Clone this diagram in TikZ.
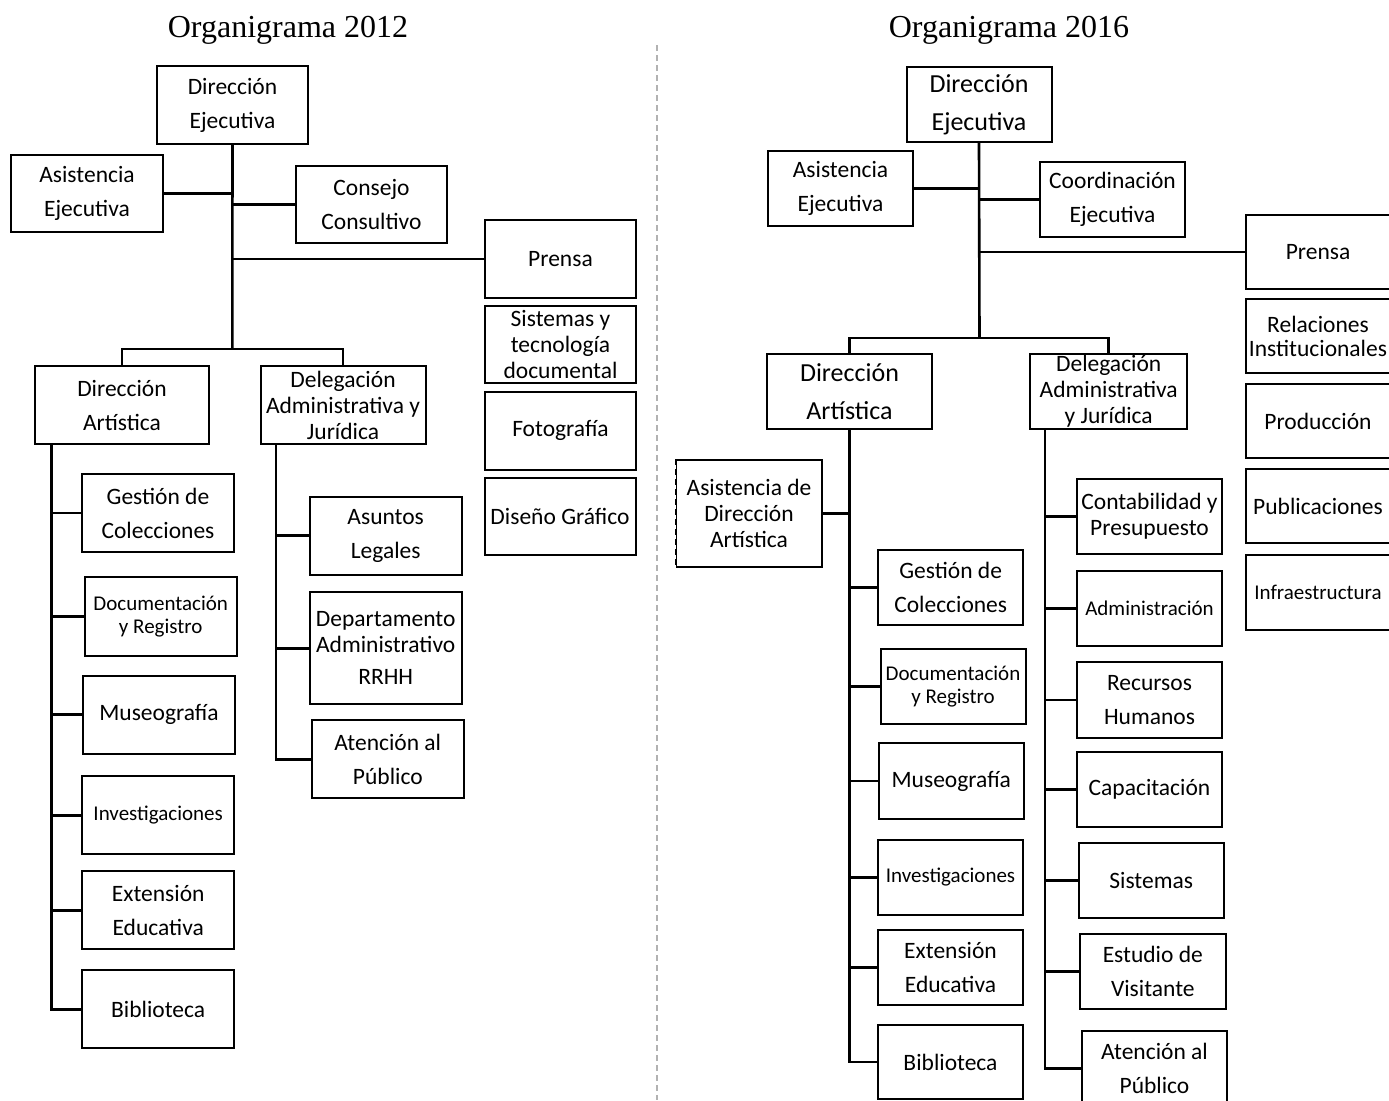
\documentclass[tikz,border=0pt]{standalone}
\usepackage{fontspec}
\setmainfont{Carlito}
\newfontfamily\titlefont{Liberation Serif}
\usepackage{tikz}
\usetikzlibrary{positioning,calc}

\begin{document}
\begin{tikzpicture}[x=0.5pt,y=-0.5pt,
    box/.style={draw, line width=1pt, align=center, inner sep=0pt,
        font=\fontsize{11.75}{17}\selectfont},
    tightbox/.style={box, font=\fontsize{11.75}{13}\selectfont},
    smallbox/.style={box, font=\fontsize{10.5}{11.5}\selectfont},
    bigbox/.style={box, font=\fontsize{13}{19}\selectfont},
    wire/.style={line width=1.3pt},
    title/.style={font=\titlefont\fontsize{16}{19}\selectfont}]
                    \useasboundingbox (0,0) rectangle (1389,1100);
                    \clip (0,0) rectangle (1389,1100);

                    \node[title] (titleA) at (288,30) {Organigrama 2012};
                    \node[title] (titleB) at (1009,30) {Organigrama 2016};
                    \coordinate (divTop) at (657,45);
                    \coordinate (divBot) at (657,1100);
                    \draw[black!30, line width=0.7pt, dash pattern=on 3pt off 2pt] (divTop) -- (divBot);

                    \node[box, minimum width=75.5pt, minimum height=39pt] (dirEjA) at (232.5,105) {Dirección\\Ejecutiva};
                    \node[box, minimum width=76pt, minimum height=38.5pt] (asistEjA) at (87,193.5) {Asistencia\\Ejecutiva};
                    \node[box, minimum width=75.5pt, minimum height=38.5pt] (consejoA) at (371.5,204.5) {Consejo\\Consultivo};
                    \node[box, minimum width=75.5pt, minimum height=39pt] (prensaA) at (560.5,259) {Prensa};
                    \node[tightbox, minimum width=75.5pt, minimum height=38.5pt] (sistemasA) at (560.5,344.5) {Sistemas y\\tecnología\\documental};
                    \node[box, minimum width=75.5pt, minimum height=39pt] (fotoA) at (560.5,430.5) {Fotografía};
                    \node[box, minimum width=75.5pt, minimum height=38.5pt] (disenoA) at (560,516.5) {Diseño Gráfico};
                    \node[box, minimum width=87pt, minimum height=39pt] (dirArtA) at (122,405) {Dirección\\Artística};
                    \node[tightbox, minimum width=82.5pt, minimum height=39pt] (delAdmA) at (343,405) {Delegación\\Administrativa y\\Jurídica};

                    \node[box, minimum width=76pt, minimum height=39pt] (gestionA) at (158,513) {Gestión de\\Colecciones};
                    \node[smallbox, minimum width=76pt, minimum height=39.5pt] (docA) at (160.7,616.5) {Documentación\\y Registro};
                    \node[box, minimum width=76pt, minimum height=39pt] (museoA) at (159,714.6) {Museografía};
                    \node[smallbox, minimum width=76pt, minimum height=39pt] (investA) at (158.2,815.2) {Investigaciones};
                    \node[box, minimum width=76pt, minimum height=39pt] (extA) at (158.2,910.4) {Extensión\\Educativa};
                    \node[box, minimum width=76pt, minimum height=39pt] (biblioA) at (158.2,1009.2) {Biblioteca};

                    \node[box, minimum width=76pt, minimum height=39pt] (legalesA) at (385.7,535.5) {Asuntos\\Legales};
                    \node[tightbox, minimum width=76pt, minimum height=55.75pt] (deptoA) at (385.7,648.2) {Departamento\\Administrativo\\[3pt]RRHH};
                    \node[box, minimum width=76pt, minimum height=39pt] (atencionA) at (387.8,759.2) {Atención al\\Público};

                    \coordinate (barA) at (232.3,349);
                    \coordinate (artA) at ($(dirArtA.south west)+(17.5,0)$);
                    \coordinate (delA) at ($(delAdmA.south west)+(16.5,0)$);
                    \draw[wire] (dirEjA.south) -- (barA);
                    \draw[wire] (dirArtA.north) |- (barA) -| (delAdmA.north);
                    \draw[wire] (asistEjA.east) -- (asistEjA.east -| barA);
                    \draw[wire] (consejoA.west) -- (consejoA.west -| barA);
                    \draw[wire] (prensaA.west) -- (prensaA.west -| barA);
                    \draw[wire] (artA) |- (biblioA.west);
                    \foreach \n in {gestionA,docA,museoA,investA,extA}
                        \draw[wire] (artA |- \n.west) -- (\n.west);
                    \draw[wire] (delA) |- (atencionA.west);
                    \foreach \n in {legalesA,deptoA}
                        \draw[wire] (delA |- \n.west) -- (\n.west);

                    \node[bigbox, minimum width=72.5pt, minimum height=37.7pt] (dirEjB) at (979,104.3) {Dirección\\Ejecutiva};
                    \node[box, minimum width=72.5pt, minimum height=37.8pt] (asistEjB) at (840.5,188.5) {Asistencia\\Ejecutiva};
                    \node[box, minimum width=72.5pt, minimum height=37.7pt] (coordB) at (1112.5,199.7) {Coordinación\\Ejecutiva};
                    \node[box, minimum width=72pt, minimum height=37pt] (prensaB) at (1318,252) {Prensa};
                    \node[box, minimum width=72pt, minimum height=37pt, font=\fontsize{11.75}{12}\selectfont] (relB) at (1318,336.3) {Relaciones\\Institucionales};
                    \node[box, minimum width=72pt, minimum height=37pt] (prodB) at (1318,421) {Producción};
                    \node[box, minimum width=72pt, minimum height=37pt] (pubB) at (1318,506.3) {Publicaciones};
                    \node[smallbox, minimum width=72pt, minimum height=37.3pt] (infraB) at (1318,592.7) {Infraestructura};
                    \node[bigbox, minimum width=82.5pt, minimum height=37.5pt, font=\fontsize{13}{18.75}\selectfont] (dirArtB) at (849.5,391.5) {Dirección\\Artística};
                    \node[tightbox, minimum width=78.7pt, minimum height=37.5pt] (delAdmB) at (1108.7,391.5) {Delegación\\Administrativa\\y Jurídica};
                    \node[tightbox, minimum width=73pt, minimum height=53.5pt] (asistArtB) at (749,513.5) {Asistencia de\\Dirección\\Artística};
                    \draw[white, line width=1.4pt] (asistArtB.north west) -- (asistArtB.south west);
                    \draw[densely dashed, line width=0.5pt] (asistArtB.north west) -- (asistArtB.south west);

                    \node[box, minimum width=72.5pt, minimum height=37.5pt] (gestionB) at (950.7,587.5) {Gestión de\\Colecciones};
                    \node[smallbox, minimum width=72.5pt, minimum height=37.75pt] (docB) at (953,686.7) {Documentación\\y Registro};
                    \node[box, minimum width=72.7pt, minimum height=38pt] (museoB) at (951.3,781) {Museografía};
                    \node[smallbox, minimum width=72.5pt, minimum height=37.35pt] (investB) at (950.5,877.3) {Investigaciones};
                    \node[box, minimum width=72.5pt, minimum height=37.5pt] (extB) at (950.5,967.5) {Extensión\\Educativa};
                    \node[box, minimum width=72.5pt, minimum height=37pt] (biblioB) at (950.5,1062) {Biblioteca};

                    \node[tightbox, minimum width=72.5pt, minimum height=37.75pt] (contB) at (1149.5,516.7) {Contabilidad y\\Presupuesto};
                    \node[smallbox, minimum width=72.5pt, minimum height=37.5pt] (adminB) at (1149.5,608.5) {Administración};
                    \node[box, minimum width=72.5pt, minimum height=37.8pt] (rrhhB) at (1149.5,699.8) {Recursos\\Humanos};
                    \node[box, minimum width=72.5pt, minimum height=37.5pt] (capB) at (1149.5,789.5) {Capacitación};
                    \node[box, minimum width=72.5pt, minimum height=37.5pt] (sistB) at (1151.2,880.5) {Sistemas};
                    \node[box, minimum width=72.8pt, minimum height=37.7pt] (estudioB) at (1152.8,971.4) {Estudio de\\Visitante};
                    \node[box, minimum width=72.5pt, minimum height=37.5pt] (atencionB) at (1154.5,1068.5) {Atención al\\Público};

                    \coordinate (barB) at (979.5,338);
                    \coordinate (artB) at (dirArtB.south);
                    \coordinate (delB) at ($(delAdmB.south west)+(16,0)$);
                    \draw[wire] (dirEjB.south) -- (barB);
                    \draw[wire] (dirArtB.north) |- (barB) -| (delAdmB.north);
                    \draw[wire] (asistEjB.east) -- (asistEjB.east -| barB);
                    \draw[wire] (coordB.west) -- (coordB.west -| barB);
                    \draw[wire] (prensaB.west) -- (prensaB.west -| barB);
                    \draw[wire] (artB) |- (biblioB.west);
                    \draw[wire] (asistArtB.east) -- (asistArtB.east -| artB);
                    \foreach \n in {gestionB,docB,museoB,investB,extB}
                        \draw[wire] (artB |- \n.west) -- (\n.west);
                    \draw[wire] (delB) |- (atencionB.west);
                    \foreach \n in {contB,adminB,rrhhB,capB,sistB,estudioB}
                        \draw[wire] (delB |- \n.west) -- (\n.west);
                \end{tikzpicture}
\end{document}
